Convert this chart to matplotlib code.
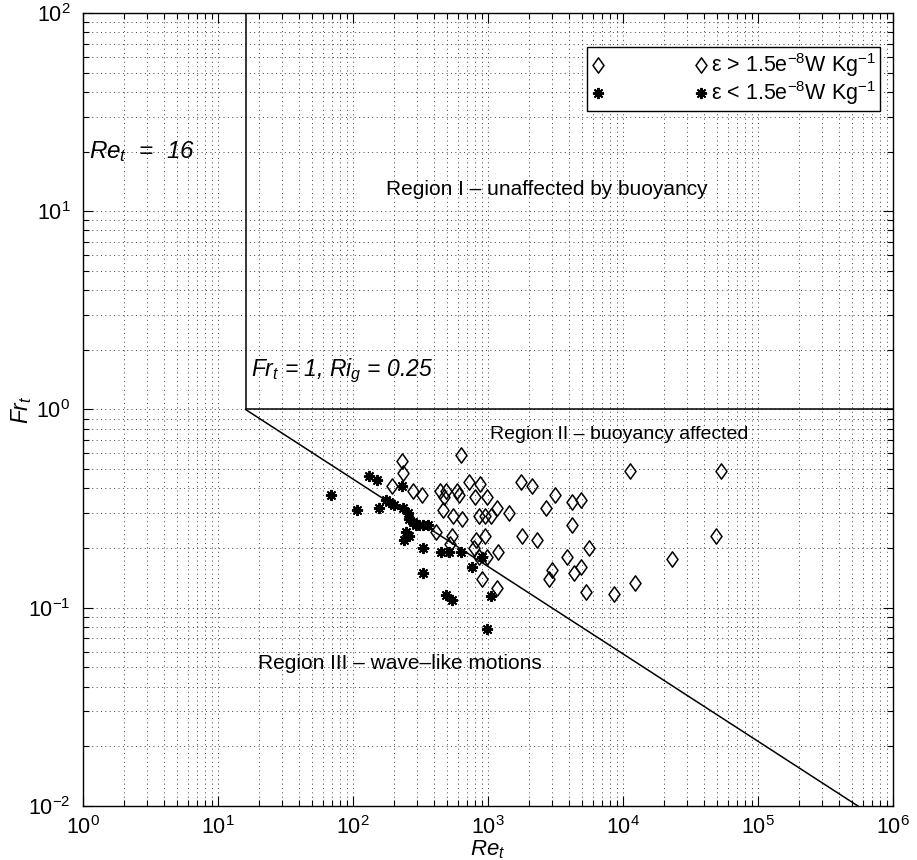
import matplotlib
matplotlib.use("Agg")
import matplotlib.pyplot as plt
from matplotlib.path import Path
from matplotlib.ticker import FixedLocator, NullFormatter

plt.rcParams['font.family'] = ['Liberation Sans', 'DejaVu Sans']
plt.rcParams['mathtext.fontset'] = 'custom'
plt.rcParams['mathtext.rm'] = 'Liberation Sans'
plt.rcParams['mathtext.it'] = 'Liberation Sans:italic'

# epsilon > 1.5e-8 W/kg
re_high = [629, 229, 236, 195, 276, 327, 440, 488, 594, 611, 474, 725, 875, 799,
           990, 466, 546, 640, 860, 952, 1049, 1174, 1430, 1750, 2110, 1800, 2320,
           411, 540, 522, 813, 789, 952, 860, 990, 1190, 909, 1170,
           11200, 53500, 3130, 2680, 4160, 4850, 4200, 5590, 3860, 4850, 4330,
           2990, 2830, 5340, 8550, 12200, 23100, 48800]
fr_high = [0.59, 0.55, 0.48, 0.41, 0.39, 0.37, 0.39, 0.39, 0.39, 0.37, 0.36, 0.43, 0.42, 0.36,
           0.36, 0.31, 0.29, 0.28, 0.29, 0.29, 0.29, 0.32, 0.30, 0.43, 0.41, 0.23, 0.22,
           0.24, 0.23, 0.21, 0.22, 0.20, 0.23, 0.18, 0.18, 0.19, 0.14, 0.126,
           0.49, 0.49, 0.37, 0.32, 0.34, 0.35, 0.26, 0.20, 0.18, 0.16, 0.15,
           0.155, 0.14, 0.12, 0.117, 0.133, 0.177, 0.23]

# epsilon < 1.5e-8 W/kg
re_low = [69, 108, 131, 150, 157, 177, 186, 202, 231, 233, 254, 261, 276, 293, 310,
          331, 357, 240, 247, 261, 331, 331, 448, 516, 629, 488, 540, 767, 909, 1060, 990]
fr_low = [0.37, 0.31, 0.46, 0.44, 0.32, 0.35, 0.34, 0.33, 0.41, 0.32, 0.30, 0.28, 0.27, 0.26, 0.26,
          0.26, 0.26, 0.22, 0.24, 0.23, 0.20, 0.15, 0.19, 0.19, 0.19, 0.116, 0.11, 0.16, 0.18, 0.114, 0.078]

# regime boundaries
re_crit = 16
fr_crit = 1
diag_re = [16, 5.5e5]
diag_fr = [1, 0.01]

# axis decades
x_decades = [0, 1, 2, 3, 4, 5, 6]
y_decades = [-2, -1, 0, 1, 2]

fig = plt.figure(figsize=(9.17, 8.6), dpi=100)
ax = fig.add_axes([0.0905, 0.0628, 0.8833, 0.9221])
ax.set_xscale('log')
ax.set_yscale('log')
ax.set_xlim(10.0 ** x_decades[0], 10.0 ** x_decades[-1])
ax.set_ylim(10.0 ** y_decades[0], 10.0 ** y_decades[-1])

diamond = Path([(0, 1), (0.72, 0), (0, -1), (-0.72, 0), (0, 1)],
               [Path.MOVETO, Path.LINETO, Path.LINETO, Path.LINETO, Path.CLOSEPOLY])

ax.plot(re_high, fr_high, linestyle='none', marker=diamond, markersize=11,
        markerfacecolor='none', markeredgecolor='black', markeredgewidth=1.1,
        label=r'$\mathrm{\epsilon}$ > 1.5e$^{-8}$W Kg$^{-1}$', zorder=4)
ax.plot(re_low, fr_low, linestyle='none', marker=(8, 2, 0), markersize=8,
        markeredgecolor='black', markeredgewidth=1.4,
        label=r'$\mathrm{\epsilon}$ < 1.5e$^{-8}$W Kg$^{-1}$', zorder=4)

ax.plot([re_crit, re_crit], [fr_crit, 1e2], color='black', lw=1.1, zorder=3)
ax.plot([re_crit, 1e6], [fr_crit, fr_crit], color='black', lw=1.1, zorder=3)
ax.plot(diag_re, diag_fr, color='black', lw=1.1, zorder=3)

for axis, decades in ((ax.xaxis, x_decades), (ax.yaxis, y_decades)):
    axis.set_major_locator(FixedLocator([10.0 ** d for d in decades]))
    axis.set_minor_locator(FixedLocator([m * 10.0 ** d for d in decades[:-1]
                                         for m in range(2, 10)]))
    axis.set_minor_formatter(NullFormatter())

grid_kw = dict(color='0.25', linestyle=(0, (1, 3.5)), linewidth=0.7)
ax.grid(True, which='major', **grid_kw)
ax.grid(True, which='minor', **grid_kw)
ax.set_axisbelow(True)

ax.tick_params(which='both', direction='in', top=True, right=True, labelsize=15.5,
               width=0.8, colors='black')
ax.tick_params(which='major', length=7)
ax.tick_params(axis='y', which='major', pad=9)
ax.tick_params(axis='x', which='major', pad=7)
ax.tick_params(which='minor', length=4)
for s in ax.spines.values():
    s.set_linewidth(1.0)

ax.set_xlabel(r'$Re_t$', fontsize=16, labelpad=0)
ax.set_ylabel(r'$Fr_t$', fontsize=16.5, labelpad=-4)

ax.text(1.1, 20, r'$Re_t$  =  16', fontsize=17.5, style='italic', va='center', ha='left')
ax.text(2735, 12.9, 'Region I \u2013 unaffected by buoyancy', fontsize=15,
        va='center', ha='center')
ax.text(17.5, 1.56, r'$Fr_t$ = 1, $Ri_g$ = 0.25', fontsize=16.5, style='italic',
        va='center', ha='left')
ax.text(1035, 0.75, 'Region II \u2013 buoyancy affected', fontsize=14,
        va='center', ha='left')
ax.text(19.8, 0.0524, 'Region III \u2013 wave\u2013like motions', fontsize=15,
        va='center', ha='left')

leg = ax.legend(loc='upper right', numpoints=2, fontsize=15.5, frameon=True, fancybox=False,
                edgecolor='black', framealpha=1, borderpad=0.2, handlelength=5.4,
                handletextpad=0.15, labelspacing=0.0, borderaxespad=0,
                bbox_to_anchor=(0.9597, 0.9453), bbox_transform=fig.transFigure)
leg.get_frame().set_linewidth(1.0)

fig.savefig('out.png', dpi=100)
